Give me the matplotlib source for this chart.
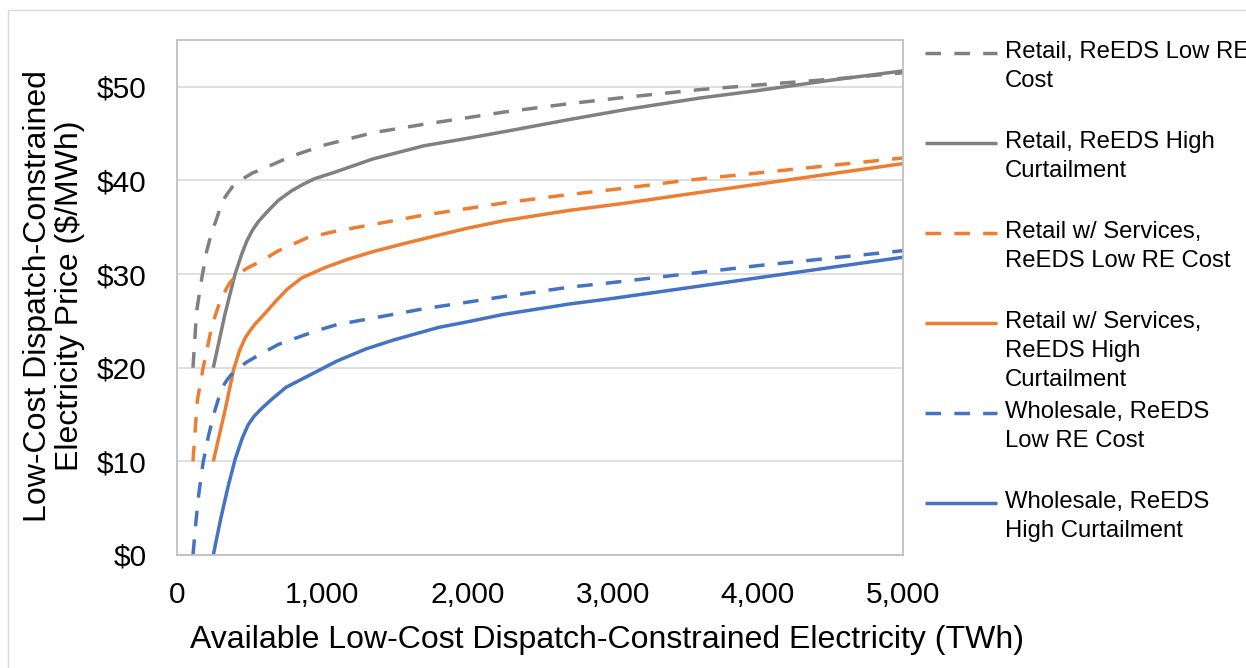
import matplotlib
matplotlib.use("Agg")
import matplotlib.pyplot as plt
from matplotlib.lines import Line2D
from matplotlib.patches import Rectangle
from matplotlib.ticker import FuncFormatter

plt.rcParams['font.family'] = ['Liberation Sans', 'DejaVu Sans']

# --- data (TWh, $/MWh) ---
retail_low_x = [110, 135, 170, 205, 240, 275, 300, 330, 380, 445, 520, 600, 790, 1020,
                1350, 1700, 2000, 2250, 2700, 3100, 3600, 4000, 4500, 5000]
retail_low_y = [20, 26.0, 29.5, 32.5, 34.5, 36.0, 37.2, 38.2, 39.3, 40.1, 40.8, 41.3, 42.6, 43.8,
                45.1, 46.0, 46.7, 47.3, 48.2, 48.9, 49.7, 50.2, 50.8, 51.5]

retail_high_x = [250, 330, 400, 445, 480, 520, 560, 630, 700, 790, 870, 950, 1090, 1350,
                 1700, 2000, 2250, 2700, 3100, 3600, 4000, 4500, 5000]
retail_high_y = [20, 25.7, 30.0, 32.1, 33.5, 34.7, 35.6, 36.8, 37.9, 38.9, 39.6, 40.2, 40.9, 42.3,
                 43.7, 44.5, 45.2, 46.5, 47.6, 48.8, 49.6, 50.7, 51.7]

svc_low_x = [110, 140, 180, 205, 230, 260, 290, 320, 345, 370, 420, 480, 580, 700, 900,
             1100, 1350, 1700, 2000, 2250, 2700, 3100, 3500, 4000, 4500, 5000]
svc_low_y = [10, 16.5, 20.0, 21.8, 23.7, 25.4, 26.8, 27.8, 28.6, 29.2, 30.0, 30.6, 31.4, 32.5, 33.9,
             34.6, 35.3, 36.3, 37.0, 37.6, 38.5, 39.2, 40.0, 40.8, 41.6, 42.4]

svc_high_x = [250, 330, 390, 430, 470, 505, 540, 600, 680, 760, 860, 1020, 1180, 1350,
              1600, 2000, 2250, 2700, 3100, 3500, 4000, 4500, 5000]
svc_high_y = [10, 15.4, 19.8, 21.8, 23.2, 24.0, 24.7, 25.7, 27.1, 28.4, 29.6, 30.7, 31.6, 32.4,
              33.4, 34.9, 35.7, 36.8, 37.6, 38.5, 39.6, 40.7, 41.8]

whl_low_x = [110, 130, 150, 180, 215, 240, 260, 290, 320, 345, 370, 420, 480, 580, 700, 950,
             1100, 1350, 1700, 2000, 2250, 2700, 3000, 3500, 4000, 4500, 5000]
whl_low_y = [0, 3.5, 6.5, 9.9, 12.6, 14.2, 15.4, 16.9, 18.1, 18.7, 19.2, 19.9, 20.6, 21.5, 22.5, 23.9,
             24.6, 25.3, 26.3, 27.0, 27.6, 28.6, 29.1, 30.0, 30.9, 31.7, 32.5]

whl_high_x = [250, 300, 350, 400, 450, 490, 530, 580, 650, 750, 900, 1000, 1100, 1300,
              1500, 1800, 2000, 2250, 2700, 3000, 3500, 4000, 4500, 5000]
whl_high_y = [0, 3.8, 7.2, 10.2, 12.5, 13.9, 14.8, 15.6, 16.6, 17.9, 19.1, 19.9, 20.7, 22.0,
              23.0, 24.3, 24.9, 25.7, 26.8, 27.4, 28.5, 29.6, 30.7, 31.8]

labels = ["Retail, ReEDS Low RE\nCost",
          "Retail, ReEDS High\nCurtailment",
          "Retail w/ Services,\nReEDS Low RE Cost",
          "Retail w/ Services,\nReEDS High\nCurtailment",
          "Wholesale, ReEDS\nLow RE Cost",
          "Wholesale, ReEDS\nHigh Curtailment"]
series = [(retail_low_x, retail_low_y), (retail_high_x, retail_high_y),
          (svc_low_x, svc_low_y), (svc_high_x, svc_high_y),
          (whl_low_x, whl_low_y), (whl_high_x, whl_high_y)]

GRAY, ORANGE, BLUE = '#808080', '#ED7D31', '#4472C4'
colors = [GRAY, GRAY, ORANGE, ORANGE, BLUE, BLUE]
dashed = [True, False, True, False, True, False]
LW = 2.5
DASH = (0, (4.5, 3.8))

W, H = 1246, 668
fig = plt.figure(figsize=(W / 100, H / 100), dpi=100)

# light chart-area border
fig.patches.append(Rectangle((8 / W, -0.05), 1.2, (H - 10) / H + 0.05,
                             transform=fig.transFigure, fill=False,
                             edgecolor='#D9D9D9', lw=1.0))

ax = fig.add_axes([177 / W, 113 / H, 726 / W, 515 / H])

for (xs, ys), c, d in zip(series, colors, dashed):
    ax.plot(xs, ys, color=c, lw=LW, ls=DASH if d else '-', solid_capstyle='butt',
            solid_joinstyle='round')

ax.set_xlim(0, 5000)
ax.set_ylim(0, 55)
ax.set_xticks(range(0, 5001, 1000))
ax.set_yticks(range(0, 51, 10))
ax.xaxis.set_major_formatter(FuncFormatter(lambda v, p: f"{int(v):,}"))
ax.yaxis.set_major_formatter(FuncFormatter(lambda v, p: f"${int(v)}"))
ax.tick_params(axis='both', length=0, labelsize=21.5, colors='black')
ax.tick_params(axis='y', pad=22)
ax.tick_params(axis='x', pad=19)
ax.grid(axis='y', color='#D9D9D9', lw=1.2)
ax.set_axisbelow(True)
for sp in ax.spines.values():
    sp.set_color('#BFBFBF')
    sp.set_linewidth(1.3)

# axis titles
fig.text(607 / W, 1 - 648 / H, "Available Low-Cost Dispatch-Constrained Electricity (TWh)",
         ha='center', va='baseline', fontsize=23)
fig.text(54 / W, 1 - 296 / H, "Low-Cost Dispatch-Constrained\nElectricity Price ($/MWh)",
         ha='center', va='center', rotation=90, multialignment='center',
         fontsize=23, linespacing=1.05)

# legend drawn by hand so the key sits on the first text line
for i, (lab, c, d) in enumerate(zip(labels, colors, dashed)):
    yl = 1 - (53 + 90 * i) / H
    fig.add_artist(Line2D([925 / W, 997 / W], [yl, yl], transform=fig.transFigure,
                          color=c, lw=LW, ls=DASH if d else '-', solid_capstyle='butt'))
    fig.text(1005 / W, yl + 12 / H, lab, ha='left', va='top', fontsize=17.2,
             linespacing=1.4)

fig.savefig('out.png', dpi=100)
